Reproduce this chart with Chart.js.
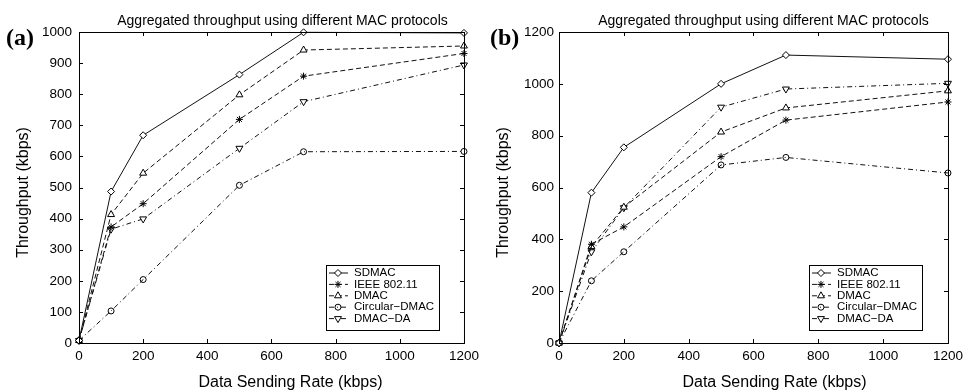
<!DOCTYPE html>
<html>
<head>
<meta charset="utf-8">
<script src="https://cdn.jsdelivr.net/npm/chart.js@4.4.1/dist/chart.umd.min.js"></script>
<style>
html, body { margin: 0; padding: 0; background: #fff; }
#wrap { position: relative; width: 968px; height: 391px; }
.panel { position: absolute; top: 0; width: 484px; height: 391px; }
#panelA { left: 0; }
#panelB { left: 484px; }
</style>
</head>
<body>
<div id="wrap">
  <div class="panel" id="panelA"><canvas id="chartA" width="484" height="391"></canvas></div>
  <div class="panel" id="panelB"><canvas id="chartB" width="484" height="391"></canvas></div>
</div>
<script>
// Data
const RATES = [0, 100, 200, 500, 700, 1200];
const PROTOCOLS = ['SDMAC', 'IEEE 802.11', 'DMAC', 'Circular\u2212DMAC', 'DMAC\u2212DA'];
const TITLE = 'Aggregated throughput using different MAC protocols';
const X_TITLE = 'Data Sending Rate (kbps)';
const Y_TITLE = 'Throughput (kbps)';

// panel (a)
const A_SDMAC = [8, 487, 668, 863, 999, 997];
const A_IEEE = [8, 373, 448, 719, 858, 931];
const A_DMAC = [8, 413, 546, 798, 942, 955];
const A_CIRC = [8, 103, 204, 507, 615, 616];
const A_DMACDA = [8, 366, 399, 626, 776, 894];

// panel (b)
const B_SDMAC = [0, 580, 755, 1000, 1111, 1095];
const B_IEEE = [0, 381, 448, 719, 860, 930];
const B_DMAC = [0, 372, 524, 814, 907, 973];
const B_CIRC = [0, 240, 352, 687, 716, 656];
const B_DMACDA = [0, 352, 522, 910, 980, 1002];

const FONT = "'Liberation Sans', Arial, sans-serif";

// marker / line look per protocol
const STYLES = [
    { pointStyle: 'rectRot', rotation: 0, dash: [], radius: 3.5, fill: '#fff' },
    { pointStyle: 'star', rotation: 0, dash: [5, 3], radius: 3.5, fill: '#000' },
    { pointStyle: 'triangle', rotation: 0, dash: [5, 3], radius: 4, fill: '#fff' },
    { pointStyle: 'circle', rotation: 0, dash: [5, 3, 1, 3], radius: 3, fill: 'rgba(255,255,255,0)' },
    { pointStyle: 'triangle', rotation: 180, dash: [5, 3, 1, 3], radius: 4, fill: '#fff' }
];

function buildDatasets(series) {
    return series.map((vals, i) => {
        const s = STYLES[i];
        return {
            label: PROTOCOLS[i],
            data: vals.map((v, k) => ({ x: RATES[k], y: v })),
            borderColor: '#111',
            borderWidth: 1,
            borderDash: s.dash,
            pointStyle: s.pointStyle,
            pointRotation: s.rotation,
            pointRadius: s.radius,
            pointBorderWidth: 1,
            pointBorderColor: '#000',
            pointBackgroundColor: s.fill,
            tension: 0,
            clip: false
        };
    });
}

// box, inward ticks on all four sides
const framePlugin = {
    id: 'frame',
    afterDraw(chart) {
        const { ctx, chartArea: a } = chart;
        const xs = chart.scales.x, ys = chart.scales.y;
        const tl = 4;
        ctx.save();
        ctx.strokeStyle = '#000';
        ctx.lineWidth = 1;
        ctx.setLineDash([]);
        ctx.strokeRect(a.left + 0.5, a.top + 0.5, a.right - a.left, a.bottom - a.top);
        ctx.beginPath();
        xs.ticks.forEach(t => {
            const px = Math.round(xs.getPixelForValue(t.value)) + 0.5;
            ctx.moveTo(px, a.bottom); ctx.lineTo(px, a.bottom - tl);
            ctx.moveTo(px, a.top); ctx.lineTo(px, a.top + tl);
        });
        ys.ticks.forEach(t => {
            const py = Math.round(ys.getPixelForValue(t.value)) + 0.5;
            ctx.moveTo(a.left, py); ctx.lineTo(a.left + tl, py);
            ctx.moveTo(a.right, py); ctx.lineTo(a.right - tl, py);
        });
        ctx.stroke();
        ctx.restore();
    }
};

// legend box in the lower right of the plot
const legendBoxPlugin = {
    id: 'legendBox',
    afterDraw(chart, args, opts) {
        const { ctx, chartArea: a } = chart;
        const w = 113, h = 65;
        const left = a.right - opts.right - w;
        const top = a.bottom - opts.bottom - h;
        ctx.save();
        ctx.fillStyle = '#fff';
        ctx.fillRect(left, top, w, h);
        ctx.strokeStyle = '#000';
        ctx.lineWidth = 1;
        ctx.strokeRect(Math.round(left) + 0.5, Math.round(top) + 0.5, w, h);
        ctx.font = '11.5px ' + FONT;
        ctx.textBaseline = 'middle';
        ctx.textAlign = 'left';
        chart.data.datasets.forEach((ds, i) => {
            const y = top + 8 + i * 11.4;
            ctx.strokeStyle = '#111';
            ctx.lineWidth = 1;
            ctx.setLineDash(ds.borderDash);
            ctx.beginPath();
            ctx.moveTo(left + 3, y);
            ctx.lineTo(left + 22, y);
            ctx.stroke();
            ctx.setLineDash([]);
            ctx.strokeStyle = '#000';
            ctx.fillStyle = ds.pointBackgroundColor;
            Chart.helpers.drawPoint(ctx, {
                pointStyle: ds.pointStyle,
                rotation: ds.pointRotation,
                radius: ds.pointRadius,
                borderWidth: 1
            }, left + 12, y);
            ctx.fillStyle = '#000';
            ctx.fillText(ds.label, left + 28, y);
        });
        ctx.restore();
    }
};

// title, axis titles, panel letter
const textPlugin = {
    id: 'panelText',
    afterDraw(chart, args, opts) {
        const { ctx, chartArea: a } = chart;
        const midX = (a.left + a.right) / 2;
        const midY = (a.top + a.bottom) / 2;
        ctx.save();
        ctx.fillStyle = '#000';
        ctx.textBaseline = 'middle';
        ctx.textAlign = 'center';
        ctx.font = '14px ' + FONT;
        ctx.fillText(TITLE, midX + opts.titleShift, 21);
        ctx.font = '16px ' + FONT;
        ctx.fillText(X_TITLE, midX + opts.xTitleShift, 383);
        ctx.save();
        ctx.translate(opts.yTitleX, midY + 5);
        ctx.rotate(-Math.PI / 2);
        ctx.fillText(Y_TITLE, 0, 0);
        ctx.restore();
        ctx.textAlign = 'left';
        ctx.font = "bold 24px 'Liberation Serif', 'Times New Roman', serif";
        ctx.fillText(opts.letter, 6, 39);
        ctx.restore();
    }
};

function makeChart(id, series, yMax, yStep, o) {
    return new Chart(document.getElementById(id), {
        type: 'line',
        data: { datasets: buildDatasets(series) },
        options: {
            responsive: false,
            animation: false,
            events: [],
            layout: { padding: { top: 32, right: o.padRight, left: 0, bottom: 0 } },
            plugins: {
                legend: { display: false },
                tooltip: { enabled: false },
                legendBox: { right: o.legRight, bottom: 13 },
                panelText: { letter: o.letter, titleShift: o.titleShift, xTitleShift: o.xTitleShift, yTitleX: o.yTitleX }
            },
            scales: {
                x: {
                    type: 'linear',
                    min: 0,
                    max: 1200,
                    grid: { display: false, drawTicks: false },
                    border: { display: false },
                    ticks: {
                        stepSize: 200, padding: 5, color: '#000',
                        font: { family: FONT, size: 13.5 },
                        callback: v => String(v)
                    },
                    afterFit: s => { s.height = 48; }
                },
                y: {
                    min: 0,
                    max: yMax,
                    grid: { display: false, drawTicks: false },
                    border: { display: false },
                    ticks: {
                        stepSize: yStep, padding: o.yPad, color: '#000',
                        font: { family: FONT, size: 13.5 },
                        callback: v => String(v)
                    },
                    afterFit: s => { s.width = o.yWidth; }
                }
            }
        },
        plugins: [framePlugin, legendBoxPlugin, textPlugin]
    });
}

makeChart('chartA', [A_SDMAC, A_IEEE, A_DMAC, A_CIRC, A_DMACDA], 1000, 100,
    { letter: '(a)', padRight: 11, yWidth: 79, yPad: 7, legRight: 25, titleShift: 11, xTitleShift: 19, yTitleX: 24 });
makeChart('chartB', [B_SDMAC, B_IEEE, B_DMAC, B_CIRC, B_DMACDA], 1200, 200,
    { letter: '(b)', padRight: 14, yWidth: 75, yPad: 5, legRight: 26, titleShift: 10, xTitleShift: 21, yTitleX: 20 });
</script>
</body>
</html>
